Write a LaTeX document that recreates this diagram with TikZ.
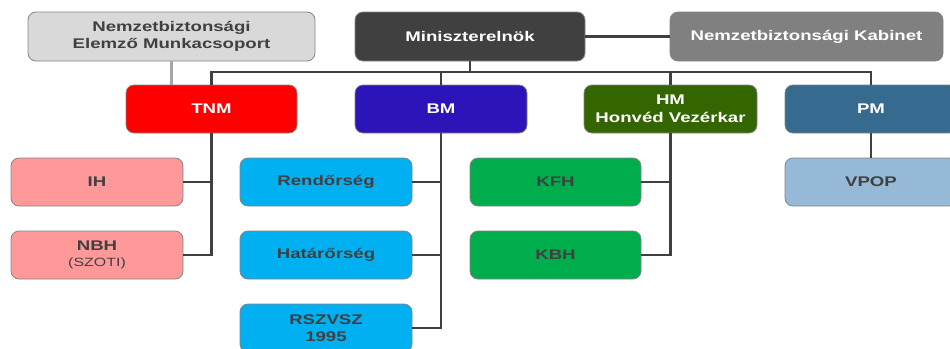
\documentclass[tikz,border=0pt]{standalone}
\usepackage{fontspec}
\setmainfont{Liberation Sans}[FakeStretch=1.33]
\usepackage{xcolor}
\definecolor{txt}{HTML}{404040}
\definecolor{nemfill}{HTML}{D9D9D9}
\definecolor{minfill}{HTML}{404040}
\definecolor{kabfill}{HTML}{808080}
\definecolor{tnmfill}{HTML}{FF0000}
\definecolor{bmfill}{HTML}{2B14B8}
\definecolor{hmfill}{HTML}{336600}
\definecolor{pmfill}{HTML}{366A8E}
\definecolor{ihfill}{HTML}{FF9999}
\definecolor{rfill}{HTML}{00B0F0}
\definecolor{kfill}{HTML}{00AD4D}
\definecolor{vfill}{HTML}{95B9D7}
\definecolor{border}{HTML}{858585}
\definecolor{linec}{HTML}{404040}
\definecolor{lightline}{HTML}{A6A6A6}
\begin{document}
\begin{tikzpicture}[x=1pt,y=-1pt,
  box/.style={draw=border, line width=0.8pt, rounded corners=8pt, minimum height=48pt,
    align=center, inner sep=0pt,
    font=\fontsize{14}{17.5}\selectfont\bfseries},
  dark/.style={box, text=txt},
  light/.style={box, text=white},
  conn/.style={draw=linec, line width=2.2pt},
]
\useasboundingbox (0,0) rectangle (950,348);
% top row
\node[dark, fill=nemfill, minimum width=287pt, minimum height=49pt] (nem) at (171.5,36.5)
  {Nemzetbiztonsági\\Elemző Munkacsoport};
\node[light, fill=minfill, minimum width=230pt, minimum height=49pt] (min) at (470,36.5) {Miniszterelnök};
\node[light, fill=kabfill, minimum width=273pt, minimum height=49pt] (kab) at (806.5,36.5) {Nemzetbiztonsági Kabinet};
% second row
\node[light, fill=tnmfill, minimum width=171pt] (tnm) at (211.5,109) {TNM};
\node[light, fill=bmfill, minimum width=172pt] (bm) at (441,109) {BM};
\node[light, fill=hmfill, minimum width=173pt] (hm) at (670.5,109) {HM\\Honvéd Vezérkar};
\node[light, fill=pmfill, minimum width=172pt] (pmin) at (871,109) {PM};
% third rows
\node[dark, fill=ihfill, minimum width=172pt] (ih) at (97,182) {IH};
\node[dark, fill=ihfill, minimum width=172pt] (nbh) at (97,255)
  {NBH\\[-2pt]{\fontsize{12}{14}\selectfont\mdseries (SZOTI)}};
\node[dark, fill=rfill, minimum width=172pt] (ren) at (326,182) {Rendőrség};
\node[dark, fill=rfill, minimum width=172pt] (hat) at (326,255) {Határőrség};
\node[dark, fill=rfill, minimum width=172pt] (rsz) at (326,328) {RSZVSZ\\1995};
\node[dark, fill=kfill, minimum width=171pt] (kfh) at (555.5,182) {KFH};
\node[dark, fill=kfill, minimum width=171pt] (kbh) at (555.5,255) {KBH};
\node[dark, fill=vfill, minimum width=172pt] (vpop) at (871,182) {VPOP};
% connectors
\coordinate (bus) at (0,72);
\draw[conn] (min) -- (kab);
\draw[draw=lightline, line width=2.2pt] (nem.south) -- (nem.south |- tnm.north);
\draw[conn] (min.south) -- (min.south |- bus);
\draw[conn] (tnm.north) -- (tnm.north |- bus) -- (pmin.north |- bus) -- (pmin.north);
\draw[conn] (bm.north) -- (bm.north |- bus);
\draw[conn] (hm.north) -- (hm.north |- bus);
\draw[conn] (tnm.south) -- (tnm.south |- nbh.east) -- (nbh.east);
\draw[conn] (ih.east) -- (ih.east -| tnm.south);
\draw[conn] (bm.south) -- (bm.south |- rsz.east) -- (rsz.east);
\draw[conn] (ren.east) -- (ren.east -| bm.south);
\draw[conn] (hat.east) -- (hat.east -| bm.south);
\draw[conn] (hm.south) -- (hm.south |- kbh.east) -- (kbh.east);
\draw[conn] (kfh.east) -- (kfh.east -| hm.south);
\draw[conn] (pmin.south) -- (vpop.north);
\end{tikzpicture}
\end{document}
